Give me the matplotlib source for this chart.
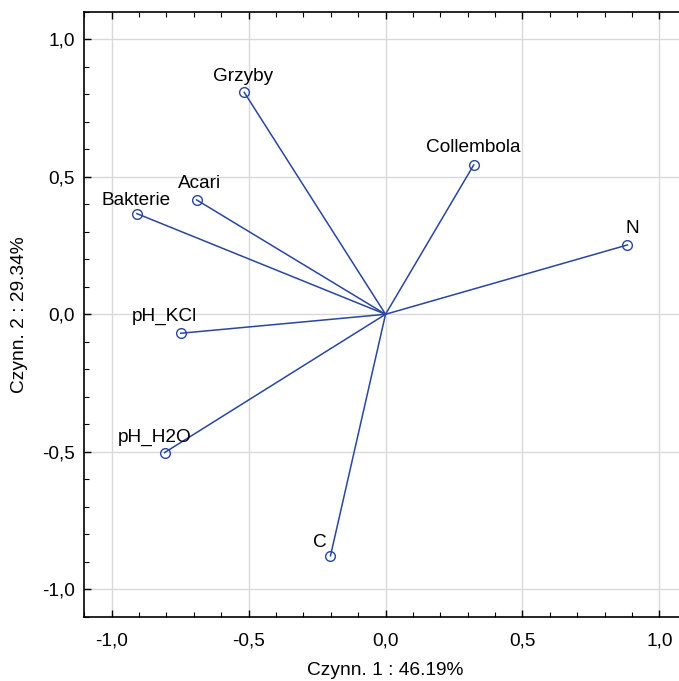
"""Wykres ładunków czynnikowych: Czynn. 1 vs Czynn. 2"""
import matplotlib
matplotlib.use('Agg')
import matplotlib.pyplot as plt
from matplotlib.ticker import MultipleLocator, FuncFormatter

plt.rcParams['font.family'] = ['Liberation Sans', 'DejaVu Sans']

# dane
zmienne = ['Grzyby', 'Collembola', 'N', 'Acari', 'Bakterie', 'pH_KCl', 'pH_H2O', 'C']
czynn1 = [-0.516, 0.322, 0.883, -0.690, -0.908, -0.748, -0.807, -0.201]
czynn2 = [0.807, 0.543, 0.252, 0.416, 0.366, -0.069, -0.503, -0.878]

# przesunięcia podpisów (piksele)
przes = {
    'Grzyby': (-1, 11), 'Collembola': (0, 13), 'N': (5, 12), 'Acari': (3, 12),
    'Bakterie': (-1, 9), 'pH_KCl': (-16, 12), 'pH_H2O': (-10, 11), 'C': (-11, 9),
}

kolor = '#2a469e'

fig = plt.figure(figsize=(6.79, 6.81), dpi=100)
ax = fig.add_axes([0.1242, 0.0943, 0.8872, 0.8884])

for x, y, nazwa in zip(czynn1, czynn2, zmienne):
    ax.plot([0, x], [0, y], color=kolor, lw=1.1, zorder=3)
    ax.plot(x, y, 'o', mfc='none', mec=kolor, ms=7, mew=1.0, zorder=4)
    dx, dy = przes[nazwa]
    ax.annotate(nazwa, (x, y), xytext=(dx, dy), textcoords='offset pixels',
                ha='center', va='baseline', fontsize=13.7, color='black')

ax.set_xlim(-1.1, 1.1)
ax.set_ylim(-1.1, 1.1)

fmt = FuncFormatter(lambda v, p: f'{v:.1f}'.replace('.', ','))
for a in (ax.xaxis, ax.yaxis):
    a.set_major_locator(MultipleLocator(0.5))
    a.set_minor_locator(MultipleLocator(0.1))
    a.set_major_formatter(fmt)

ax.tick_params(which='both', direction='in', top=True, right=True, labelsize=13.7)
ax.tick_params(which='major', length=5, width=1)
ax.tick_params(which='minor', length=3.5, width=0.8)
ax.tick_params(axis='y', pad=7)
ax.tick_params(axis='x', pad=11)

ax.grid(True, which='major', color='#d9d9d9', lw=1, zorder=0)
ax.set_axisbelow(True)
for s in ax.spines.values():
    s.set_linewidth(1.2)

ax.set_xlabel('Czynn. 1 : 46.19%', fontsize=13.8, labelpad=9)
ax.set_ylabel('Czynn. 2 : 29.34%', fontsize=13.8, labelpad=10)

fig.savefig('out.png', dpi=100, facecolor='white')
